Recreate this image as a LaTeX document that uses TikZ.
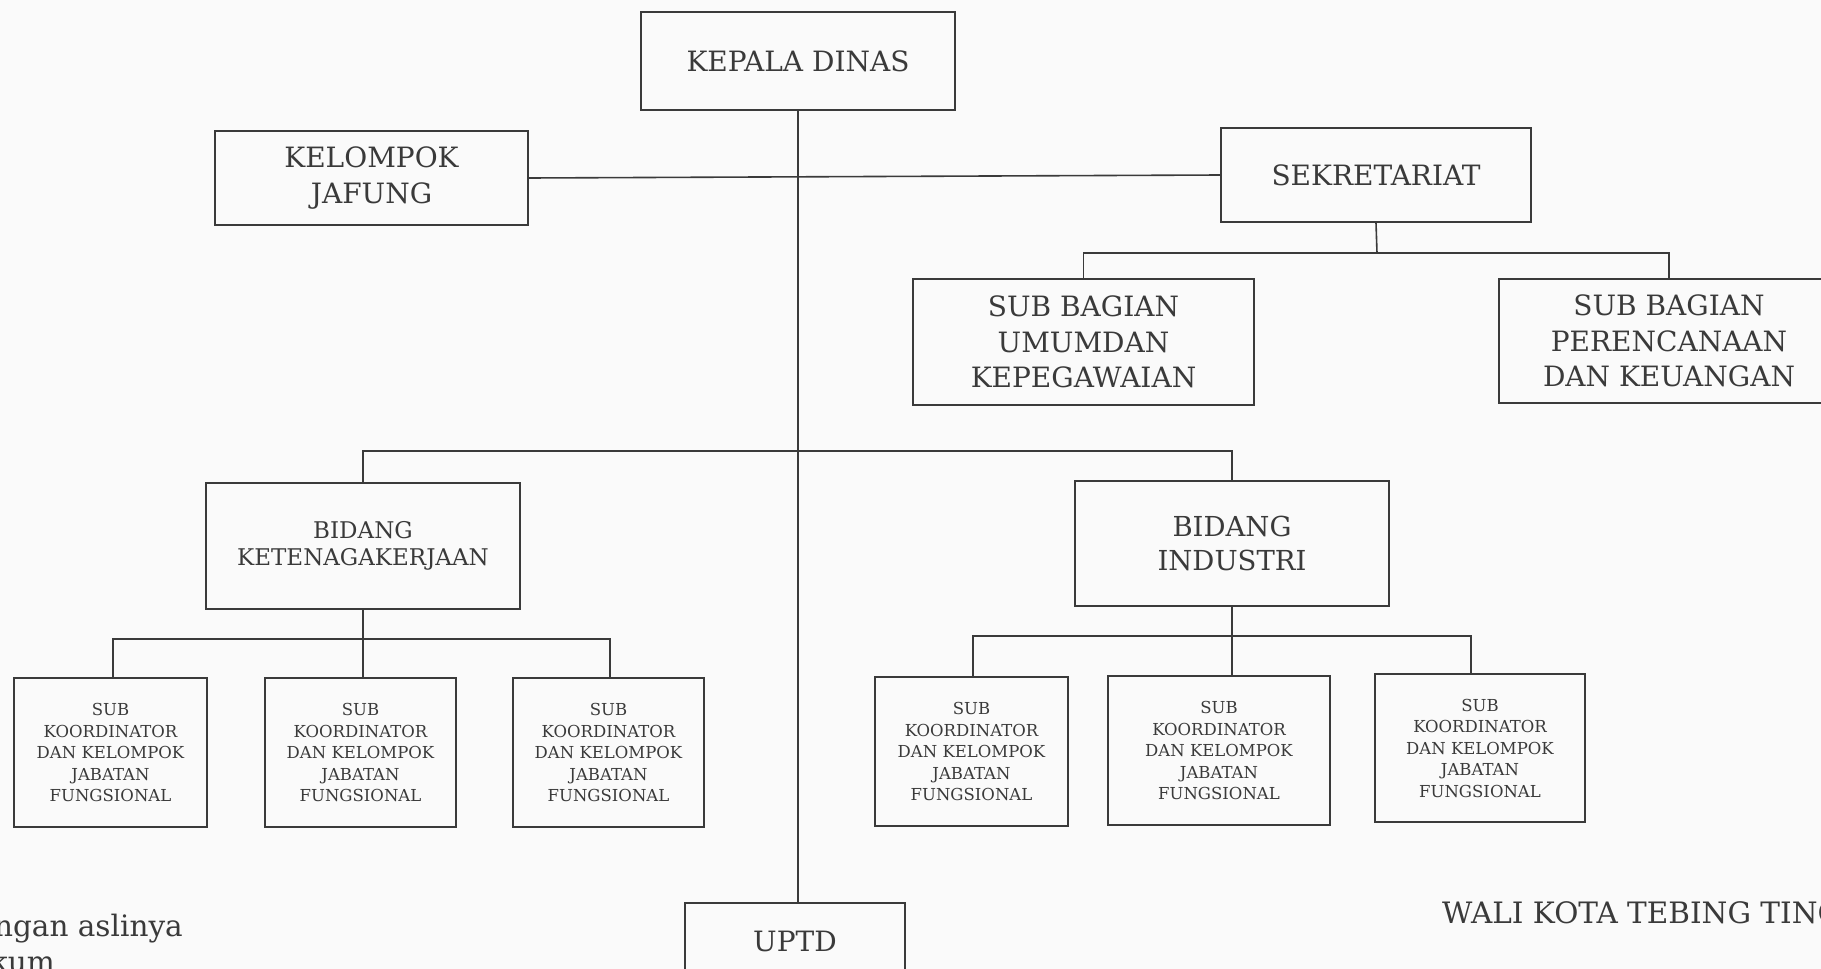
\documentclass[tikz,border=0pt]{standalone}
\usepackage{fontspec}
\setmainfont{DejaVu Serif}
\usetikzlibrary{calc}
\definecolor{ink}{HTML}{3A3A3A}
\definecolor{paper}{HTML}{FAFAFA}
\newcommand\fontTop{\fontsize{28}{35.5}\selectfont}
\newcommand\fontBidK{\fontsize{23}{27}\selectfont}
\newcommand\fontBidI{\fontsize{27.5}{34}\selectfont}
\newcommand\fontSub{\fontsize{16.5}{21.5}\selectfont}
\newcommand\fontFoot{\fontsize{29.5}{37}\selectfont}
\tikzset{
  unitbox/.style={draw=ink, line width=1.8pt, inner sep=0pt, align=center, text=ink},
  link/.style={draw=ink, line width=1.6pt},
  spine/.style={draw=ink, line width=1.4pt},
  foot/.style={text=ink, inner sep=0pt, font=\fontFoot}
}
\begin{document}
\begin{tikzpicture}[x=1pt,y=-1pt]
\fill[paper] (0,0) rectangle (1821,969);
\useasboundingbox (0,0) rectangle (1821,969);
\clip (0,0) rectangle (1821,969);

% top level
\node[unitbox, font=\fontTop, minimum width=314pt, minimum height=98pt] (kd) at (798,61) {KEPALA DINAS};
\node[unitbox, font=\fontTop, minimum width=313pt, minimum height=94pt] (kj) at (371.5,178) {KELOMPOK\\JAFUNG};
\node[unitbox, font=\fontTop, minimum width=310pt, minimum height=94pt] (sk) at (1376,175) {SEKRETARIAT};

% secretariat sub-sections
\node[unitbox, font=\fontTop, minimum width=341pt, minimum height=126pt] (su) at (1083.5,342) {SUB BAGIAN\\UMUMDAN\\KEPEGAWAIAN};
\node[unitbox, font=\fontTop, minimum width=340pt, minimum height=124pt] (sp) at (1669,341) {SUB BAGIAN\\PERENCANAAN\\DAN KEUANGAN};

% divisions
\node[unitbox, font=\fontBidK, minimum width=314pt, minimum height=126pt] (bk) at (363,546) {BIDANG\\KETENAGAKERJAAN};
\node[unitbox, font=\fontBidI, minimum width=314pt, minimum height=125pt] (bi) at (1232,543.5) {BIDANG\\INDUSTRI};

% sub-coordinators, left
\node[unitbox, font=\fontSub, minimum width=193pt, minimum height=149pt] (l1) at (110.5,752.5) {SUB\\KOORDINATOR\\DAN KELOMPOK\\JABATAN\\FUNGSIONAL};
\node[unitbox, font=\fontSub, minimum width=191pt, minimum height=149pt] (l2) at (360.5,752.5) {SUB\\KOORDINATOR\\DAN KELOMPOK\\JABATAN\\FUNGSIONAL};
\node[unitbox, font=\fontSub, minimum width=191pt, minimum height=149pt] (l3) at (608.5,752.5) {SUB\\KOORDINATOR\\DAN KELOMPOK\\JABATAN\\FUNGSIONAL};

% sub-coordinators, right
\node[unitbox, font=\fontSub, minimum width=193pt, minimum height=149pt] (r1) at (971.5,751.5) {SUB\\KOORDINATOR\\DAN KELOMPOK\\JABATAN\\FUNGSIONAL};
\node[unitbox, font=\fontSub, minimum width=222pt, minimum height=149pt] (r2) at (1219,750.5) {SUB\\KOORDINATOR\\DAN KELOMPOK\\JABATAN\\FUNGSIONAL};
\node[unitbox, font=\fontSub, minimum width=210pt, minimum height=148pt] (r3) at (1480,748) {SUB\\KOORDINATOR\\DAN KELOMPOK\\JABATAN\\FUNGSIONAL};

% technical unit (runs past the lower edge)
\node[unitbox, minimum width=220pt, minimum height=100pt] (up) at (795,953) {};
\node[text=ink, font=\fontTop, inner sep=0pt] (uptxt) at (795,941) {UPTD};

% connectors
\draw[spine] (kd.south) -- (kd.south |- up.north);
\draw[link] (kj.east) -- (sk.west);

\coordinate (skb) at (1377,253);
\draw[link] (sk.south) -- (skb);
\draw[link] (su.north) -- (su.north |- skb) -- (sp.north |- skb) -- (sp.north);

\coordinate (bdb) at (797,451);
\draw[link] (bk.north) -- (bk.north |- bdb) -- (bi.north |- bdb) -- (bi.north);

\coordinate (lb) at (363,639);
\draw[link] (bk.south) -- (bk.south |- l2.north);
\draw[link] ([xshift=2.5pt]l1.north) -- ([xshift=2.5pt]l1.north |- lb) -- ([xshift=1.5pt]l3.north |- lb) -- ([xshift=1.5pt]l3.north);

\coordinate (rb) at (1233,636);
\draw[link] (bi.south) -- (bi.south |- r2.north);
\draw[link] ([xshift=1.5pt]r1.north) -- ([xshift=1.5pt]r1.north |- rb) -- ([xshift=-9pt]r3.north |- rb) -- ([xshift=-9pt]r3.north);

% footer texts, running past the side edges
\node[foot, anchor=base east] (legal) at (183,936) {dengan aslinya};
\node[foot, anchor=base east] (legal2) at (55,972) {Kepala Bagian Hukum};
\node[foot, anchor=base west] (mayor) at (1442,923) {WALI KOTA TEBING TINGGI,};
\end{tikzpicture}
\end{document}
